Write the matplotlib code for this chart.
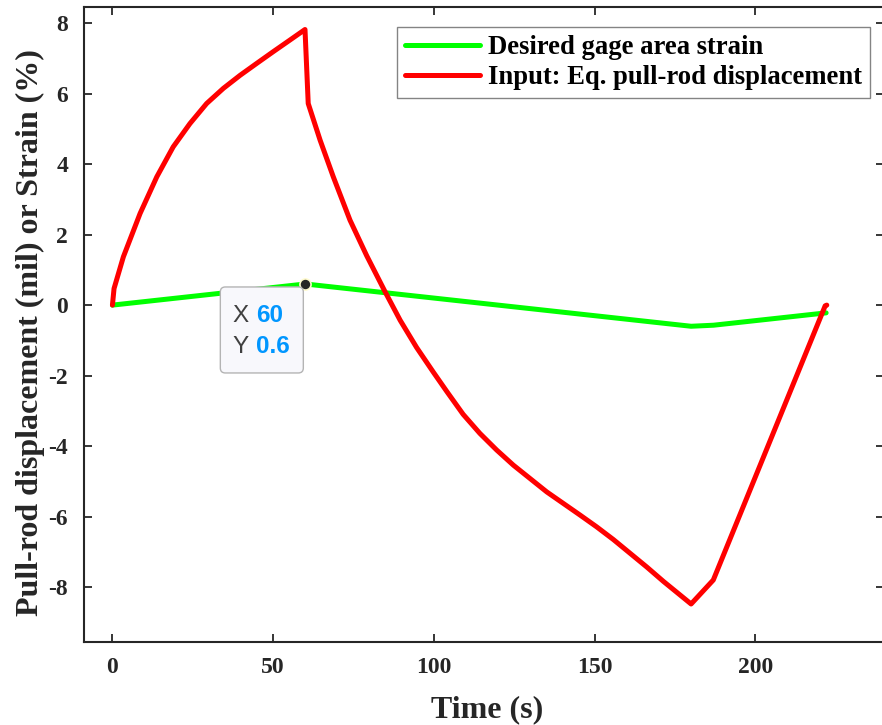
import matplotlib
matplotlib.use('Agg')
import matplotlib.pyplot as plt
from matplotlib.patches import FancyBboxPatch
from matplotlib.transforms import Affine2D

plt.rcParams['axes.unicode_minus'] = False

# desired gage area strain (%)
strain_t = [0, 60, 180, 187, 222]
strain_v = [0, 0.6, -0.6, -0.57, -0.22]

# equivalent pull-rod displacement (mil)
disp_t = [0, 0.5, 3.4, 8.6, 13.8, 18.9, 24.1, 29.3, 34.5, 39.7, 44.9, 50.0, 55.2, 59.9,
          60.9, 64.6, 68.7, 73.9, 79.1, 84.8, 89.5, 94.6, 99.8, 104.0, 109.1,
          114.3, 119.5, 124.7, 129.9, 135.1, 140.3, 145.5, 150.6, 155.8, 161.0,
          166.2, 171.4, 180.0, 186.9, 221.7, 222.2]
disp_v = [0, 0.47, 1.37, 2.6, 3.64, 4.49, 5.15, 5.72, 6.15, 6.52, 6.86, 7.19, 7.52, 7.82,
          5.72, 4.68, 3.64, 2.41, 1.40, 0.38, -0.43, -1.2, -1.9, -2.45, -3.1,
          -3.64, -4.11, -4.54, -4.92, -5.30, -5.63, -5.96, -6.29, -6.65, -7.04,
          -7.43, -7.84, -8.48, -7.80, -0.02, 0.0]

x_ticks = [0, 50, 100, 150, 200]
y_ticks = [-8, -6, -4, -2, 0, 2, 4, 6, 8]

tip_x, tip_y = 60, 0.6

serif = 'Liberation Serif'
sans = 'Liberation Sans'
axcol = '#262626'

fig = plt.figure(figsize=(8.82, 7.25), dpi=100)
W, H = 882, 725
ax = fig.add_axes([83.5 / W, (H - 641.7) / H, (884 - 83.5) / W, (641.7 - 7.3) / H])

ax.plot(strain_t, strain_v, color='#00ff00', lw=3.6, label='Desired gage area strain',
        solid_capstyle='round', solid_joinstyle='round')
ax.plot(disp_t, disp_v, color='#ff0000', lw=3.6, label='Input: Eq. pull-rod displacement',
        solid_capstyle='round', solid_joinstyle='round')

ax.set_xlim(-9, 240)
ax.set_ylim(-9.55, 8.45)
ax.set_xticks(x_ticks)
ax.set_yticks(y_ticks)
ax.tick_params(direction='in', length=6, width=1.3, colors=axcol, top=True, right=True,
               labelsize=17, pad=11)
for lab in ax.get_xticklabels() + ax.get_yticklabels():
    lab.set_fontfamily(serif)
    lab.set_fontweight('bold')
for s in ax.spines.values():
    s.set_linewidth(1.5)
    s.set_color(axcol)

ax.set_xlabel('Time (s)', fontfamily=serif, fontweight='bold', fontsize=23, color=axcol)
ax.set_ylabel('Pull-rod displacement (mil) or Strain (%)', fontfamily=serif,
              fontweight='bold', fontsize=23, color=axcol)
ax.xaxis.set_label_coords(0.504, -0.085)
ax.yaxis.set_label_coords(-0.048, 0.488)

leg = ax.legend(loc='upper right', bbox_to_anchor=(869.5 / W, (H - 27) / H),
                bbox_transform=fig.transFigure,
                prop={'family': serif, 'weight': 'bold', 'size': 19.2},
                frameon=True, fancybox=False, handlelength=2.8, handletextpad=0.3,
                labelspacing=0.2, borderpad=0.3, borderaxespad=0)
leg.get_frame().set_edgecolor('#666666')
leg.get_frame().set_linewidth(1.0)

# data tip at the peak strain
ax.plot([tip_x], [tip_y], 'o', ms=8, color='#262626', mec='#fffbd0', mew=1.2, zorder=6)
fig.canvas.draw()
px = ax.transData.transform((tip_x, tip_y))
box = FancyBboxPatch((0, 0), 83, 86, boxstyle='round,pad=0,rounding_size=5',
                     facecolor='#f8f8fc', edgecolor='#b4b4b4', lw=1.0, zorder=5)
box.set_transform(Affine2D().translate(px[0] - 85, px[1] - 89))
fig.patches.append(box)
box.set_figure(fig)

for dy, k, v in [(-32, 'X', '60'), (-63, 'Y', '0.6')]:
    fig.text((px[0] - 73) / W, (px[1] + dy) / H, k, fontfamily=sans, fontsize=17.5,
             color='#404040', va='center', ha='left', zorder=7)
    fig.text((px[0] - 49) / W, (px[1] + dy) / H, v, fontfamily=sans, fontsize=17.5,
             color='#0096ff', fontweight='bold', va='center', ha='left', zorder=7)

fig.savefig('out.png', dpi=100)
